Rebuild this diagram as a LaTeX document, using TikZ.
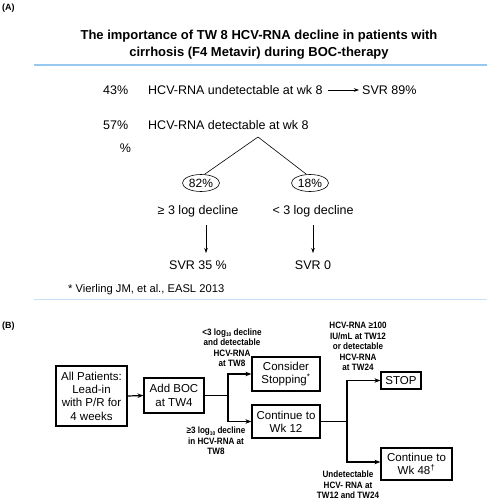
\documentclass[tikz,border=0pt]{standalone}
\usepackage{fontspec}
\setmainfont{Liberation Sans}
\newfontfamily\narrowf{Liberation Sans}[FakeStretch=0.88]
\usetikzlibrary{shapes.geometric,arrows.meta}
\newcommand{\lgsub}{\raisebox{-0.4ex}{\fontsize{5.5}{6}\selectfont 10}}
\tikzset{
  txt/.style={inner sep=0pt, font=\fontsize{12.5}{14}\selectfont},
  ttl/.style={inner sep=0pt, align=center, font=\fontsize{13}{17}\selectfont\bfseries},
  small/.style={inner sep=0pt, align=center, font=\fontsize{9.2}{10.5}\selectfont\narrowf\bfseries},
  fbox/.style={draw, line width=1.2pt, inner sep=0pt, align=center, font=\fontsize{11.5}{13.3}\selectfont},
  oval/.style={draw, ellipse, line width=0.6pt, inner sep=0pt, minimum width=37pt, minimum height=17pt, font=\fontsize{12}{13}\selectfont},
  thin/.style={line width=0.6pt},
  tip/.style={-{Stealth[length=5pt,width=3.5pt]}},
  flow/.style={line width=1.2pt, -{Stealth[length=6pt,width=4.5pt]}},
  flowl/.style={line width=1.2pt}
}
\begin{document}
\begin{tikzpicture}[x=1pt,y=-1pt]
\useasboundingbox (0,0) rectangle (487,500);
% ---------- Part A ----------
\node[inner sep=0pt, anchor=west, font=\fontsize{9}{10}\selectfont\bfseries] (la) at (2,8) {(A)};
\node[ttl] (title) at (259,44.5) {The importance of TW 8 HCV-RNA decline in patients with\\cirrhosis (F4 Metavir) during BOC-therapy};
\draw[line width=1.3pt, color={rgb,255:red,150;green,200;blue,240}] (34,65) -- (487,65);

\node[txt, anchor=west] (p43) at (103,90) {43\%};
\node[txt, anchor=west] (und) at (148,90) {HCV-RNA undetectable at wk 8};
\node[txt, anchor=west] (svr89) at (362,90) {SVR 89\%};
\coordinate (u1) at (328,90); \coordinate (u2) at (359,90);
\draw[thin, tip] (u1) -- (u2);

\node[txt, anchor=west] (p57) at (103,125) {57\%};
\node[txt, anchor=west] (det) at (148,125) {HCV-RNA detectable at wk 8};
\node[txt] (pct) at (125.5,148) {\%};

\coordinate (apex) at (258,137);
\node[oval] (e82) at (201,183) {82\%};
\node[oval] (e18) at (310,183) {18\%};
\draw[thin] (apex) -- (e82.68);
\draw[thin] (apex) -- (e18.112);

\node[txt] (dec1) at (198,211) {≥ 3 log decline};
\node[txt] (dec2) at (313,211) {< 3 log decline};
\node[txt] (svr35) at (198,265.5) {SVR 35 \%};
\node[txt] (svr0) at (313,265.5) {SVR 0};
\coordinate (a1s) at (206,225); \coordinate (a1e) at (206,253);
\coordinate (a2s) at (313,225); \coordinate (a2e) at (313,253);
\draw[thin, tip] (a1s) -- (a1e);
\draw[thin, tip] (a2s) -- (a2e);

\node[inner sep=0pt, anchor=west, font=\fontsize{11.2}{12}\selectfont] (ref) at (68,290) {* Vierling JM, et al., EASL 2013};
\draw[line width=1pt, color={rgb,255:red,200;green,225;blue,248}] (34,299.5) -- (487,299.5);

% ---------- Part B ----------
\node[inner sep=0pt, anchor=west, font=\fontsize{9}{10}\selectfont\bfseries] (lb) at (2,326) {(B)};

\node[fbox, minimum width=71pt, minimum height=60pt] (all) at (91.5,396) {All Patients:\\Lead-in\\with P/R for\\4 weeks};
\node[fbox, minimum width=60pt, minimum height=35pt] (boc) at (174,395.5) {Add BOC\\at TW4};
\node[fbox, minimum width=68pt, minimum height=34pt] (cons) at (286,374) {Consider\\Stopping\textsuperscript{*}};
\node[fbox, minimum width=68pt, minimum height=33pt] (c12) at (286,421.5) {Continue to\\Wk 12};
\node[fbox, minimum width=40pt, minimum height=17pt] (stop) at (401,380.5) {STOP};
\node[fbox, minimum width=71pt, minimum height=32pt] (c48) at (416.5,464) {Continue to\\Wk 48\textsuperscript{\dag}};

\coordinate (j1) at (228,395.5);
\coordinate (j2) at (347,421.5);
\draw[flow] (all.east) -- (boc.west);
\draw[flowl] (boc.east) -- (j1);
\draw[flow] (j1) |- (cons.west);
\draw[flow] (j1) |- (c12.west);
\draw[flowl] (c12.east) -- (j2);
\draw[flow] (j2) |- (stop.west);
\draw[flow] (j2) |- ([yshift=2pt]c48.west);

\node[small] (l1) at (232,347.5) {<3 log\lgsub{} decline\\and detectable\\HCV-RNA\\at TW8};
\node[small] (l2) at (216,441) {≥3 log\lgsub{} decline\\in HCV-RNA at\\TW8};
\node[small] (l3) at (358,346.5) {HCV-RNA ≥100\\IU/mL at TW12\\or detectable\\HCV-RNA\\at TW24};
\node[small] (l4) at (348,485) {Undetectable\\HCV- RNA at\\TW12 and TW24};
\end{tikzpicture}
\end{document}
